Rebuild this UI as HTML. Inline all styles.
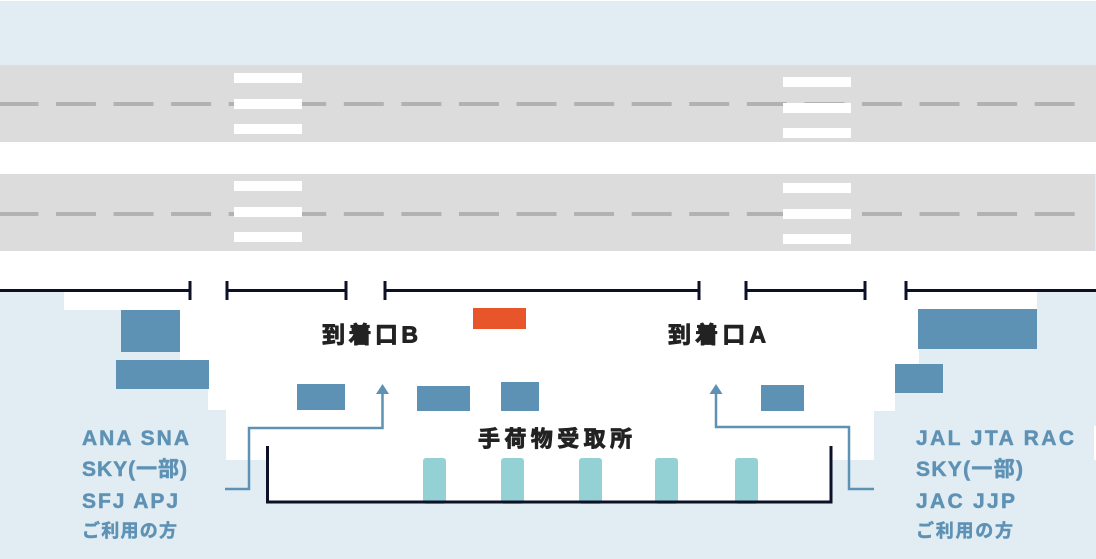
<!DOCTYPE html>
<html>
<head>
<meta charset="utf-8">
<style>
  html,body{margin:0;padding:0;background:#e1ecf3;}
  body{width:1096px;height:559px;overflow:hidden;}
  svg{display:block;}
  .lbl{font-family:"Liberation Sans","Noto Sans CJK JP",sans-serif;font-weight:bold;}
</style>
</head>
<body>
<svg width="1096" height="559" viewBox="0 0 1096 559" xmlns="http://www.w3.org/2000/svg">
  <!-- background -->
  <rect x="0" y="0" width="1096" height="559" fill="#e1ecf3"/>
  <rect x="0" y="0" width="1096" height="1" fill="#ffffff"/>
  <!-- roads -->
  <rect x="0" y="65" width="1096" height="77" fill="#dcdcdc"/>
  <rect x="0" y="142" width="1096" height="32" fill="#ffffff"/>
  <rect x="0" y="174" width="1095" height="77" fill="#dcdcdc"/>
  <rect x="0" y="251" width="1096" height="41" fill="#ffffff"/>
  <!-- lane dashes -->
  <line x1="-1.6" y1="104" x2="1076" y2="104" stroke="#b2b2b2" stroke-width="4" stroke-dasharray="40 17.57"/>
  <line x1="-1.6" y1="214" x2="1076" y2="214" stroke="#b2b2b2" stroke-width="4" stroke-dasharray="40 17.57"/>
  <!-- crosswalks -->
  <g fill="#ffffff">
    <rect x="234" y="73" width="68" height="10"/>
    <rect x="234" y="99" width="68" height="10"/>
    <rect x="234" y="124" width="68" height="10"/>
    <rect x="234" y="181" width="68" height="10"/>
    <rect x="234" y="207" width="68" height="10"/>
    <rect x="234" y="232" width="68" height="10"/>
    <rect x="783" y="77" width="68" height="10"/>
    <rect x="783" y="103" width="68" height="10"/>
    <rect x="783" y="128" width="68" height="10"/>
    <rect x="783" y="183" width="68" height="10"/>
    <rect x="783" y="209" width="68" height="10"/>
    <rect x="783" y="234" width="68" height="10"/>
  </g>
  <!-- building white shape -->
  <polygon fill="#ffffff" points="64,290 1037,290 1037,349 919,349 919,393 895,393 895,411 874,411 874,460 831,460 831,502 267,502 267,460 226,460 226,410 208,410 208,389 180,389 180,310 64,310"/>
  <rect x="1094" y="426" width="2" height="34" fill="#ffffff"/>
  <!-- bracket line top -->
  <g stroke="#0c1128" stroke-width="3" fill="none">
    <line x1="0" y1="290.5" x2="191" y2="290.5"/>
    <line x1="190" y1="281" x2="190" y2="300"/>
    <line x1="226" y1="290.5" x2="347" y2="290.5"/>
    <line x1="227" y1="281" x2="227" y2="300"/>
    <line x1="346" y1="281" x2="346" y2="300"/>
    <line x1="384" y1="290.5" x2="700" y2="290.5"/>
    <line x1="385" y1="281" x2="385" y2="300"/>
    <line x1="699" y1="281" x2="699" y2="300"/>
    <line x1="745" y1="290.5" x2="866" y2="290.5"/>
    <line x1="746" y1="281" x2="746" y2="300"/>
    <line x1="865" y1="281" x2="865" y2="300"/>
    <line x1="905" y1="290.5" x2="1096" y2="290.5"/>
    <line x1="906" y1="281" x2="906" y2="300"/>
  </g>
  <!-- blue blocks -->
  <g fill="#5e92b5">
    <rect x="121" y="310" width="59" height="42"/>
    <rect x="116" y="360" width="93" height="29"/>
    <rect x="297" y="384" width="48" height="26"/>
    <rect x="417" y="386" width="53" height="25"/>
    <rect x="501" y="382" width="38" height="29"/>
    <rect x="761" y="385" width="43" height="26"/>
    <rect x="918" y="309" width="119" height="40"/>
    <rect x="895" y="364" width="48" height="29"/>
  </g>
  <!-- orange block -->
  <rect x="473" y="308" width="53" height="21" fill="#e9552b"/>
  <!-- baggage carousels -->
  <g fill="#93d1d4">
    <rect x="423" y="458" width="23" height="46" rx="3"/>
    <rect x="501" y="458" width="23" height="46" rx="3"/>
    <rect x="579" y="458" width="23" height="46" rx="3"/>
    <rect x="655" y="458" width="23" height="46" rx="3"/>
    <rect x="735" y="458" width="23" height="46" rx="3"/>
  </g>
  <!-- baggage bracket -->
  <polyline points="267.5,446 267.5,502 831,502 831,446" fill="none" stroke="#0c1128" stroke-width="3"/>
  <!-- arrows -->
  <g stroke="#5e92b5" stroke-width="2.5" fill="none">
    <polyline points="225,489 249,489 249,428 382.5,428 382.5,392"/>
    <polyline points="874,489 849,489 849,427 716,427 716,392"/>
  </g>
  <g fill="#5e92b5">
    <polygon points="376,394 382.5,384 389,394"/>
    <polygon points="709.5,394 716,384 722.5,394"/>
  </g>
  <!-- labels -->
  <g class="lbl" fill="#222222" stroke="#222222" stroke-width="0.9" stroke-linejoin="round">
    <text x="322" y="342.5" font-size="23" textLength="96" lengthAdjust="spacing">到着口B</text>
    <text x="668" y="342.5" font-size="23" textLength="98" lengthAdjust="spacing">到着口A</text>
    <text x="478" y="446.5" font-size="22" textLength="154" lengthAdjust="spacing">手荷物受取所</text>
  </g>
  <g class="lbl" fill="#5e92b5" stroke="#5e92b5" stroke-width="0.5" stroke-linejoin="round">
    <text x="82" y="445" font-size="21" textLength="107" lengthAdjust="spacing">ANA SNA</text>
    <text x="82" y="476" font-size="21" textLength="105" lengthAdjust="spacing">SKY(一部)</text>
    <text x="82" y="508" font-size="21" textLength="96" lengthAdjust="spacing">SFJ APJ</text>
    <text x="82" y="537" font-size="18" textLength="95" lengthAdjust="spacing">ご利用の方</text>
    <text x="916" y="445" font-size="21" textLength="158" lengthAdjust="spacing">JAL JTA RAC</text>
    <text x="916" y="476" font-size="21" textLength="107" lengthAdjust="spacing">SKY(一部)</text>
    <text x="916" y="508" font-size="21" textLength="99" lengthAdjust="spacing">JAC JJP</text>
    <text x="916" y="537" font-size="18" textLength="97" lengthAdjust="spacing">ご利用の方</text>
  </g>
</svg>
</body>
</html>
